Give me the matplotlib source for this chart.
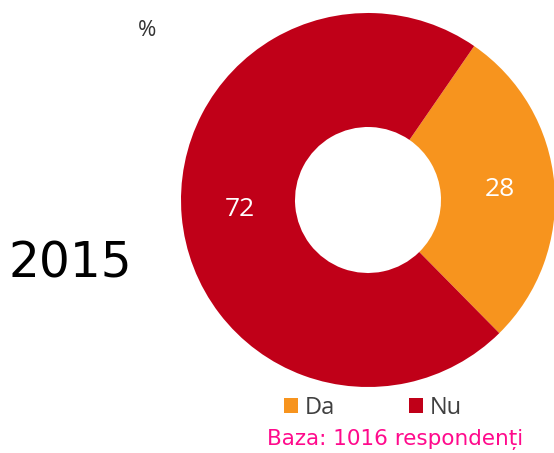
import matplotlib.pyplot as plt

categories = ['Da', 'Nu']
values = [28, 72]
colors = ['#F7941E', '#C00018']

fig = plt.figure(figsize=(5.54, 4.53), dpi=100)
ax = fig.add_axes([0, 0, 1, 1])

wedges, texts = ax.pie(values, colors=colors, startangle=55.4, counterclock=False,
                       center=(368, 253), radius=187,
                       wedgeprops=dict(width=187 - 73, edgecolor='none'))
ax.set_xlim(0, 554)
ax.set_ylim(0, 453)
ax.set_aspect('equal')
ax.axis('off')

# value labels
ax.text(500, 263, str(values[0]), color='white', fontsize=19, family='Open Sans',
        ha='center', va='center')
ax.text(240, 243, str(values[1]), color='white', fontsize=19, family='Open Sans',
        ha='center', va='center')

ax.text(147, 423, '%', fontsize=16, color='#333333', family='Open Sans', ha='center', va='center')
ax.text(70, 189, '2015', fontsize=35, color='black', family='DejaVu Sans', ha='center', va='center')

leg = ax.legend(wedges, categories, loc='center', bbox_to_anchor=(373 / 554, 1 - 408 / 453),
                ncol=2, frameon=False, handlelength=0.6, handleheight=0.6,
                handletextpad=0.3, columnspacing=3.1,
                prop={'family': 'Open Sans', 'size': 17})
for t in leg.get_texts():
    t.set_color('#404040')

ax.text(395, 13, 'Baza: 1016 respondenți', color='#FF0A8C', fontsize=15.5,
        family='DejaVu Sans', ha='center', va='center')

fig.savefig('out.png', dpi=100)
